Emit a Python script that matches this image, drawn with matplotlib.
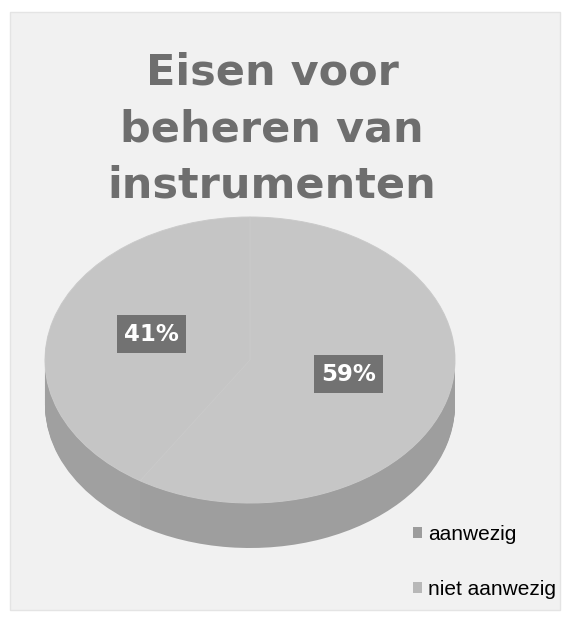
import matplotlib.pyplot as plt
from matplotlib.patches import Rectangle

# data
labels = ['aanwezig', 'niet aanwezig']
values = [59, 41]
title = 'Eisen voor\nbeheren van\ninstrumenten'

top_colors = ['#c6c6c6', '#c5c5c5']
side_colors = ['#9e9e9e', '#a0a0a0']
legend_colors = ['#9c9c9c', '#b8b8b8']

fig = plt.figure(figsize=(5.66, 6.18), dpi=100)
fig.patch.set_facecolor('white')
fig.patches.append(Rectangle((10 / 566, 8 / 618), 550 / 566, 598 / 618,
                             transform=fig.transFigure, facecolor='#f1f1f1',
                             edgecolor='#e4e4e4', lw=1.0, zorder=-5))

fig.text(272 / 566, 1 - 129 / 618, title, ha='center', va='center',
         fontsize=31, fontweight='bold', color='#6e6e6e',
         family='DejaVu Sans', linespacing=1.45)

# pie axes: radius 1 in x = 205 px, in y = 143 px
thick = 45 / 143
ax = fig.add_axes([45 / 566, (618 - 548) / 618, 410 / 566, (143 * (2 + thick)) / 618])
ax.set_zorder(2)

# side of the 3d pie: stacked layers
n = 40
for i in range(n, 0, -1):
    dy = thick * i / n
    ax.pie(values, colors=side_colors, startangle=90, counterclock=False,
           center=(0, -dy), radius=1, frame=True,
           wedgeprops=dict(linewidth=0))

wedges, texts, autotexts = ax.pie(values, colors=top_colors, startangle=90,
                                  counterclock=False, center=(0, 0), radius=1,
                                  frame=True, autopct='%.0f%%', pctdistance=0.5,
                                  wedgeprops=dict(edgecolor='#cacaca', linewidth=0.7),
                                  textprops=dict(color='white', fontsize=16.5,
                                                 fontweight='bold'))
for t in autotexts:
    x, y = t.get_position()
    t.set_position((x, y + 0.04))
    t.set_bbox(dict(boxstyle='square,pad=0.32', facecolor='#727272',
                    edgecolor='none'))
ax.set_aspect('auto')
ax.set_xlim(-1, 1)
ax.set_ylim(-1 - thick, 1)
ax.axis('off')

handles = [Rectangle((0, 0), 1, 1, facecolor=c, edgecolor='none') for c in legend_colors]
fig.legend(handles, labels, loc='upper left', bbox_to_anchor=(394 / 566, 1 - 506 / 618),
           frameon=False, labelspacing=1.75, handlelength=0.45,
           handleheight=0.45, handletextpad=0.3, prop=dict(family='Liberation Sans', size=15))

fig.savefig('out.png', dpi=100)
